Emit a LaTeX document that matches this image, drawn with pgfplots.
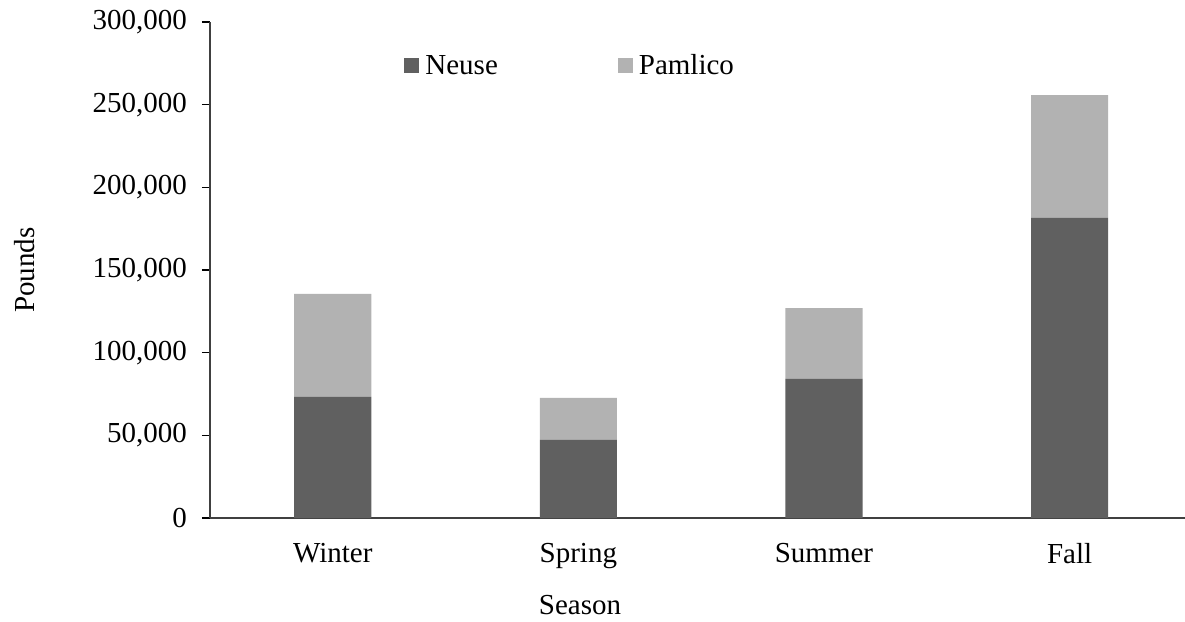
\documentclass[border=0pt]{standalone}
\usepackage{pgfplots}
\pgfplotsset{compat=1.18}
\usepackage{fontspec}
\setmainfont{Liberation Serif}
\definecolor{neuse}{RGB}{96,96,96}
\definecolor{pamlico}{RGB}{178,178,178}
\definecolor{axisgray}{RGB}{64,64,64}
\pgfplotstableread{
x neuse pamlico
0 73200 62300
1 47200 25400
2 84100 42900
3 181500 74300
}\datatable
\begin{document}
\begin{tikzpicture}
\begin{axis}[
  scale only axis, width=487.5bp, height=248bp,
  xmin=-0.5, xmax=3.47, ymin=0, ymax=300000,
  ybar stacked, bar width=0.314,
  axis x line*=bottom, axis y line*=left,
  axis line style={axisgray, line width=0.75bp},
  xtick=data, xticklabels={Winter,Spring,Summer,Fall},
  x tick style={draw=none},
  ytick={0,50000,100000,150000,200000,250000,300000},
  y tick style={black, line width=0.75bp},
  tick align=outside, major tick length=4bp,
  scaled y ticks=false,
  /pgf/number format/fixed,
  /pgf/number format/1000 sep={,},
  /pgf/number format/assume math mode=true,
  tick label style={font=\fontsize{14.5bp}{17bp}\selectfont, text=black},
  label style={font=\fontsize{14.5bp}{17bp}\selectfont},
  xticklabel style={yshift=-5bp},
  yticklabel style={xshift=-4bp},
  ylabel={Pounds},
  ylabel style={at={(axis description cs:-0.1897,0.5)}, anchor=center},
  xlabel={Season},
  xlabel style={at={(axis description cs:0.3795,-0.1754)}, anchor=center},
  legend columns=2,
  legend cell align=left,
  legend image code/.code={\fill[#1] (0bp,-3.5bp) rectangle (7.5bp,4bp);},
  legend style={draw=none, fill=none, inner sep=0pt, at={(0.199,0.911)}, anchor=west,
    font=\fontsize{14.5bp}{17bp}\selectfont, nodes={inner sep=0pt},
    /tikz/every odd column/.append style={column sep=3bp},
    /tikz/every even column/.append style={column sep=60bp}},
]
\addplot[fill=neuse, draw=none] table[x=x, y=neuse] {\datatable};
\addplot[fill=pamlico, draw=none] table[x=x, y=pamlico] {\datatable};
\legend{Neuse, Pamlico}
\end{axis}
\pgfresetboundingbox
\useasboundingbox (-105bp,-52bp) rectangle (487.5bp,259bp);
\end{tikzpicture}
\end{document}
